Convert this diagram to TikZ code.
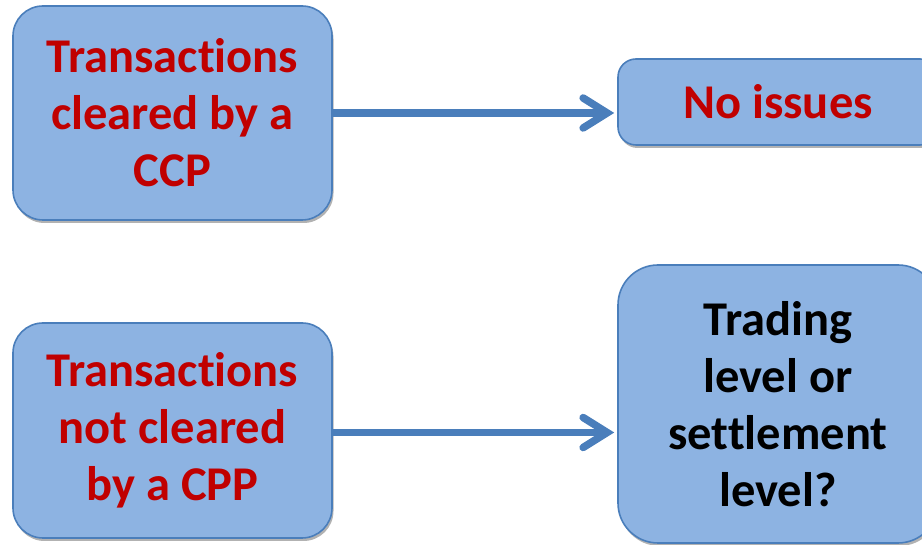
\documentclass[tikz,border=0pt]{standalone}
\usepackage{fontspec}
\setmainfont{Carlito}[Ligatures=NoCommon]
\usetikzlibrary{arrows.meta,shadows}
\definecolor{boxfill}{HTML}{8DB3E2}
\definecolor{boxline}{HTML}{4A7EBB}
\definecolor{arrowcol}{HTML}{4A7EBB}
\definecolor{txtred}{HTML}{C00000}
\tikzset{
  box/.style={draw=boxline, line width=1.6pt, fill=boxfill, align=center,
    inner sep=0pt, font=\bfseries\fontsize{48.5}{57}\selectfont,
    drop shadow={shadow xshift=1.5pt, shadow yshift=-3pt, opacity=0.3, fill=black}},
  redtext/.style={text=txtred},
  conn/.style={draw=arrowcol, line width=7.5pt,
    -{Straight Barb[length=24pt, width=30pt, line cap=round, line width=7.5pt]}}
}
\begin{document}
\begin{tikzpicture}[x=1pt,y=1pt]
\useasboundingbox (0,0) rectangle (922,545);
\node[box, redtext, minimum width=319, minimum height=214, rounded corners=30pt]
  (a) at (172.5,432) {Transactions\\cleared by a\\CCP};
\node[box, redtext, minimum width=320, minimum height=86, rounded corners=18pt]
  (b) at (778,443) {No issues};
\node[box, redtext, minimum width=319, minimum height=215, rounded corners=30pt]
  (c) at (172.5,114.5) {Transactions\\not cleared\\by a CPP};
\node[box, minimum width=320, minimum height=278, rounded corners=40pt]
  (d) at (778,141) {Trading\\level or\\settlement\\level?};
\draw[conn] (a.east) -- ([xshift=-3pt]a.east -| b.west);
\draw[conn] ([yshift=-2pt]c.east) -- ([xshift=-3pt,yshift=-2pt]c.east -| d.west);
\end{tikzpicture}
\end{document}
